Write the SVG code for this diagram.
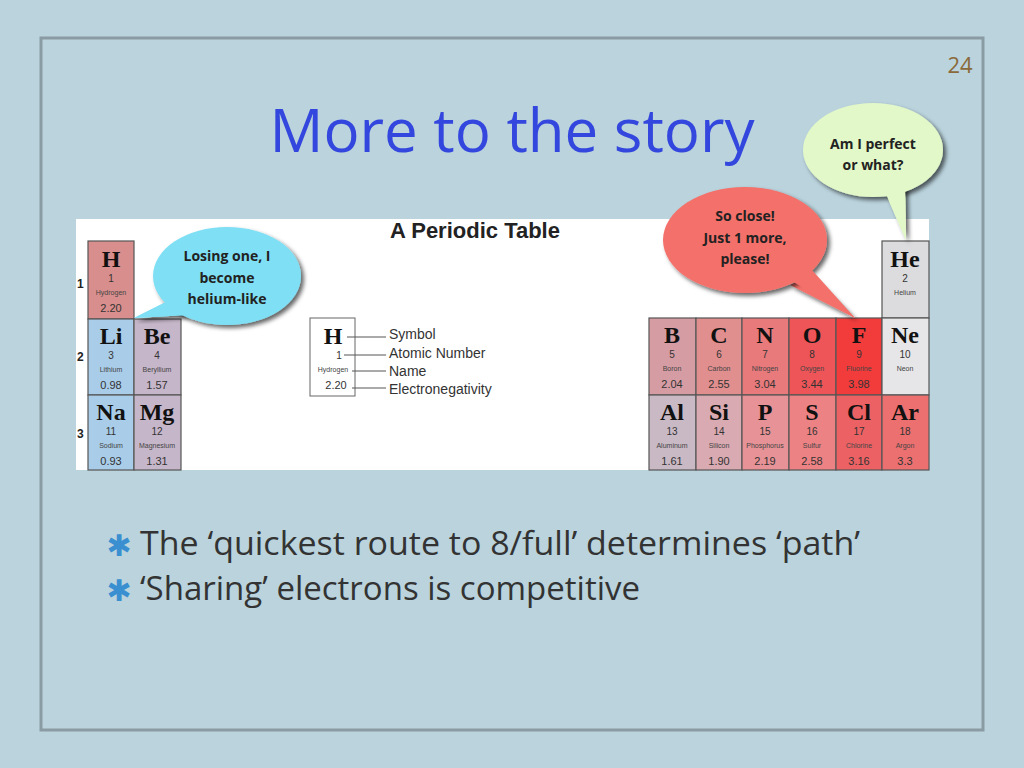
<svg xmlns="http://www.w3.org/2000/svg" width="1024" height="768" viewBox="0 0 1024 768">
<defs>
<style>
.c{stroke:#555;stroke-width:1.2}
.s{font-family:"Liberation Serif",serif;font-weight:bold;font-size:24px;text-anchor:middle;fill:#111}
.n{font-family:"Liberation Sans",sans-serif;font-size:10px;text-anchor:middle;fill:#333}
.m{font-family:"Liberation Sans",sans-serif;font-size:7px;text-anchor:middle;fill:#444}
.e{font-family:"Liberation Sans",sans-serif;font-size:11px;text-anchor:middle;fill:#333}
.b{font-family:"Open Sans",sans-serif;font-weight:bold;font-size:14px;text-anchor:middle;fill:#222}
.l{font-family:"Liberation Sans",sans-serif;font-size:14px;fill:#333}
.t{font-family:"Open Sans",sans-serif;font-size:33px;fill:#333}
</style>
<filter id="sh" x="-20%" y="-20%" width="150%" height="150%"><feDropShadow dx="3" dy="3" stdDeviation="2" flood-color="#000" flood-opacity="0.6"/></filter>
</defs>
<rect width="1024" height="768" fill="#bad3dd"/>
<rect x="41" y="38" width="942" height="692" fill="#bad3dd" stroke="#8a9ba3" stroke-width="3"/>
<text x="960" y="73" font-family="Open Sans,sans-serif" font-size="22" fill="#8a6a3a" text-anchor="middle">24</text>
<text x="512" y="152" font-family="Open Sans,sans-serif" font-size="60" fill="#3346dd" text-anchor="middle">More to the story</text>
<rect x="76" y="219" width="853" height="251" fill="#fff"/>
<text x="475" y="238" font-family="Liberation Sans,sans-serif" font-weight="bold" font-size="22" fill="#222" text-anchor="middle">A Periodic Table</text>
<g font-family="Liberation Sans,sans-serif" font-size="12" font-weight="bold" fill="#222"><text x="77" y="288">1</text><text x="77" y="361">2</text><text x="77" y="438">3</text></g>
<g id="cells">
<g id="H"><rect class="c" x="88" y="241" width="46" height="78" fill="#d88e8c"/><text class="s" x="111" y="267">H</text><text class="n" x="111" y="282">1</text><text class="m" x="111" y="295">Hydrogen</text><text class="e" x="111" y="312">2.20</text></g>
<g id="Li"><rect class="c" x="88" y="319" width="46" height="76" fill="#a9cde9"/><text class="s" x="111" y="344">Li</text><text class="n" x="111" y="359">3</text><text class="m" x="111" y="372">Lithium</text><text class="e" x="111" y="389">0.98</text></g>
<g id="Be"><rect class="c" x="134" y="319" width="47" height="76" fill="#c6b6c9"/><text class="s" x="157" y="344">Be</text><text class="n" x="157" y="359">4</text><text class="m" x="157" y="372">Beryllium</text><text class="e" x="157" y="389">1.57</text></g>
<g id="Na"><rect class="c" x="88" y="395" width="46" height="75" fill="#a9cde9"/><text class="s" x="111" y="420">Na</text><text class="n" x="111" y="435">11</text><text class="m" x="111" y="448">Sodium</text><text class="e" x="111" y="465">0.93</text></g>
<g id="Mg"><rect class="c" x="134" y="395" width="47" height="75" fill="#c6b6c9"/><text class="s" x="157" y="420">Mg</text><text class="n" x="157" y="435">12</text><text class="m" x="157" y="448">Magnesium</text><text class="e" x="157" y="465">1.31</text></g>
<g id="He"><rect class="c" x="882" y="241" width="47" height="77" fill="#dcdcdf"/><text class="s" x="905" y="267">He</text><text class="n" x="905" y="282">2</text><text class="m" x="905" y="295">Helium</text></g>
<g id="B"><rect class="c" x="649" y="318" width="47" height="77" fill="#d69ca3"/><text class="s" x="672" y="343">B</text><text class="n" x="672" y="358">5</text><text class="m" x="672" y="371">Boron</text><text class="e" x="672" y="388">2.04</text></g>
<g id="C"><rect class="c" x="696" y="318" width="46" height="77" fill="#e08e8e"/><text class="s" x="719" y="343">C</text><text class="n" x="719" y="358">6</text><text class="m" x="719" y="371">Carbon</text><text class="e" x="719" y="388">2.55</text></g>
<g id="N"><rect class="c" x="742" y="318" width="47" height="77" fill="#e87a7c"/><text class="s" x="765" y="343">N</text><text class="n" x="765" y="358">7</text><text class="m" x="765" y="371">Nitrogen</text><text class="e" x="765" y="388">3.04</text></g>
<g id="O"><rect class="c" x="789" y="318" width="47" height="77" fill="#ee5558"/><text class="s" x="812" y="343">O</text><text class="n" x="812" y="358">8</text><text class="m" x="812" y="371">Oxygen</text><text class="e" x="812" y="388">3.44</text></g>
<g id="F"><rect class="c" x="836" y="318" width="46" height="77" fill="#f23c3c"/><text class="s" x="859" y="343">F</text><text class="n" x="859" y="358">9</text><text class="m" x="859" y="371">Fluorine</text><text class="e" x="859" y="388">3.98</text></g>
<g id="Ne"><rect class="c" x="882" y="318" width="47" height="77" fill="#e6e6e8"/><text class="s" x="905" y="343">Ne</text><text class="n" x="905" y="358">10</text><text class="m" x="905" y="371">Neon</text></g>
<g id="Al"><rect class="c" x="649" y="395" width="47" height="75" fill="#c9b9c5"/><text class="s" x="672" y="420">Al</text><text class="n" x="672" y="435">13</text><text class="m" x="672" y="448">Aluminum</text><text class="e" x="672" y="465">1.61</text></g>
<g id="Si"><rect class="c" x="696" y="395" width="46" height="75" fill="#d9aab2"/><text class="s" x="719" y="420">Si</text><text class="n" x="719" y="435">14</text><text class="m" x="719" y="448">Silicon</text><text class="e" x="719" y="465">1.90</text></g>
<g id="P"><rect class="c" x="742" y="395" width="47" height="75" fill="#e69296"/><text class="s" x="765" y="420">P</text><text class="n" x="765" y="435">15</text><text class="m" x="765" y="448">Phosphorus</text><text class="e" x="765" y="465">2.19</text></g>
<g id="S"><rect class="c" x="789" y="395" width="47" height="75" fill="#ec8284"/><text class="s" x="812" y="420">S</text><text class="n" x="812" y="435">16</text><text class="m" x="812" y="448">Sulfur</text><text class="e" x="812" y="465">2.58</text></g>
<g id="Cl"><rect class="c" x="836" y="395" width="46" height="75" fill="#ec6264"/><text class="s" x="859" y="420">Cl</text><text class="n" x="859" y="435">17</text><text class="m" x="859" y="448">Chlorine</text><text class="e" x="859" y="465">3.16</text></g>
<g id="Ar"><rect class="c" x="882" y="395" width="47" height="75" fill="#ec7070"/><text class="s" x="905" y="420">Ar</text><text class="n" x="905" y="435">18</text><text class="m" x="905" y="448">Argon</text><text class="e" x="905" y="465">3.3</text></g>
</g>
<g id="legend">
<rect x="310" y="318" width="45" height="78" fill="#fff" stroke="#666"/>
<text class="s" x="333" y="344">H</text><text class="n" x="339" y="359">1</text><text class="m" x="333" y="372">Hydrogen</text><text class="e" x="336" y="389">2.20</text>
<g stroke="#555" stroke-width="1"><line x1="347" y1="337" x2="386" y2="337"/><line x1="344" y1="355" x2="386" y2="355"/><line x1="352" y1="371" x2="386" y2="371"/><line x1="352" y1="388" x2="386" y2="388"/></g>
<text class="l" x="389" y="339">Symbol</text><text class="l" x="389" y="358">Atomic Number</text><text class="l" x="389" y="376">Name</text><text class="l" x="389" y="394">Electronegativity</text>
</g>
<g id="connectors">
<path filter="url(#sh)" d="M170,300 L134,318 L188,315 Z" fill="#7fdff4"/>
<path filter="url(#sh)" d="M790,285 L855,318 L812,275 Z" fill="#f4706a"/>
<path filter="url(#sh)" d="M882,185 L906,240 L905,180 Z" fill="#e2f8c8"/>
</g>
<g id="bubble-li"><ellipse filter="url(#sh)" cx="227" cy="276" rx="74" ry="49" fill="#7fdff4"/><path d="M170,300 L134,318 L188,315 Z" fill="#7fdff4"/>
<text class="b" x="227" y="261">Losing one, I</text><text class="b" x="227" y="283">become</text><text class="b" x="227" y="304">helium-like</text></g>
<g id="bubble-f"><ellipse filter="url(#sh)" cx="745" cy="240" rx="82" ry="53" fill="#f4706a"/><path d="M790,280 L855,318 L812,270 Z" fill="#f4706a"/>
<text class="b" x="745" y="221">So close!</text><text class="b" x="745" y="243">Just 1 more,</text><text class="b" x="745" y="264">please!</text></g>
<g id="bubble-he"><ellipse filter="url(#sh)" cx="873" cy="150" rx="70" ry="47" fill="#e2f8c8"/><path d="M882,185 L906,240 L905,180 Z" fill="#e2f8c8"/>
<text class="b" x="873" y="149">Am I perfect</text><text class="b" x="873" y="170">or what?</text></g>
<g id="bullets">
<text x="119" y="556" font-family="DejaVu Sans,sans-serif" font-size="30" fill="#3a8fd0" text-anchor="middle">✱</text>
<text x="119" y="601" font-family="DejaVu Sans,sans-serif" font-size="30" fill="#3a8fd0" text-anchor="middle">✱</text>
<text class="t" x="140" y="555" textLength="720" lengthAdjust="spacingAndGlyphs">The ‘quickest route to 8/full’ determines ‘path’</text>
<text class="t" x="140" y="600">‘Sharing’ electrons is competitive</text>
</g>
</svg>
